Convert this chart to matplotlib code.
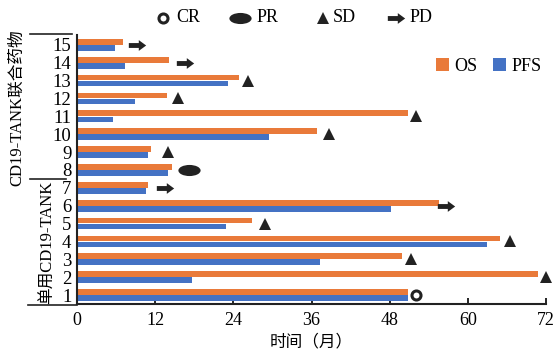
import numpy as np
import matplotlib
matplotlib.use("Agg")
import matplotlib.pyplot as plt
from matplotlib.path import Path
from matplotlib.patches import Patch
from matplotlib.lines import Line2D

plt.rcParams['font.family'] = ['Liberation Serif', 'Noto Sans CJK SC']

patients = list(range(1, 16))
os_months = [50.8, 70.7, 49.9, 65.0, 26.8, 55.5, 10.9, 14.6, 11.4, 36.9, 50.8, 13.8, 24.8, 14.2, 7.1]
pfs_months = [50.8, 17.6, 37.3, 63.0, 22.9, 48.2, 10.6, 13.9, 10.9, 29.4, 5.6, 8.9, 23.2, 7.4, 5.8]
status = ['CR', 'SD', 'SD', 'SD', 'SD', 'PD', 'PD', 'PR', 'SD', 'SD', 'SD', 'SD', 'SD', 'PD', 'PD']
status_x = [52.1, 72.0, 51.3, 66.4, 28.9, 56.7, 13.5, 17.2, 14.0, 38.7, 52.1, 15.5, 26.3, 16.6, 9.2]
x_ticks = [0, 12, 24, 36, 48, 60, 72]
group_labels = ['单用CD19-TANK', 'CD19-TANK联合药物']

ORANGE = '#E97A3A'
BLUE = '#4472C4'

# custom markers
arrow_path = Path([(-1.0, -0.28), (0.15, -0.28), (0.15, -0.62), (1.0, 0.0),
                   (0.15, 0.62), (0.15, 0.28), (-1.0, 0.28), (-1.0, -0.28)],
                  [Path.MOVETO] + [Path.LINETO] * 6 + [Path.CLOSEPOLY])
circ = Path.unit_circle()
ellipse_path = Path(circ.vertices * np.array([1.0, 0.5]), circ.codes)

marker_styles = {
    'CR': dict(marker='o', ms=6.5, mfc='white', mec='#222222', mew=2.2),
    'PR': dict(marker=ellipse_path, ms=16, mfc='#222222', mec='#222222', mew=0),
    'SD': dict(marker='^', ms=8.5, mfc='#222222', mec='#222222', mew=0),
    'PD': dict(marker=arrow_path, ms=12.5, mfc='#222222', mec='#222222', mew=0),
}

fig = plt.figure(figsize=(5.58, 3.56), dpi=100)
ax = fig.add_axes([77 / 558, 1 - 304 / 356, (546 - 77) / 558, (304 - 35) / 356])

y = np.array(patients, dtype=float)
h = 0.32
ax.barh(y + 0.17, os_months, height=h, color=ORANGE, zorder=2)
ax.barh(y - 0.17, pfs_months, height=h, color=BLUE, zorder=2)

for yi, sx, st in zip(y, status_x, status):
    ax.plot([sx], [yi], linestyle='none', clip_on=False, zorder=3, **marker_styles[st])

ax.set_xlim(0, 72)
ax.set_ylim(0.5, 15.55)
ax.set_xticks(x_ticks)
ax.set_xticklabels([str(t) for t in x_ticks], fontsize=13)
ax.set_yticks(patients)
ax.set_yticklabels([str(p) for p in patients], fontsize=13.5)
ax.tick_params(axis='x', direction='in', length=4, width=1.2, pad=6)
ax.tick_params(axis='y', length=0, pad=4)
for s in ['top', 'right']:
    ax.spines[s].set_visible(False)
for s in ['left', 'bottom']:
    ax.spines[s].set_linewidth(1.5)
    ax.spines[s].set_color('#222222')

ax.set_xlabel('时间（月）', fontsize=12, labelpad=4)

# OS / PFS legend
handles = [Patch(facecolor=ORANGE, edgecolor='none'), Patch(facecolor=BLUE, edgecolor='none')]
ax.legend(handles, ['OS', 'PFS'], loc='upper right', bbox_to_anchor=(1.025, 0.975), ncol=2,
          frameon=False, fontsize=13, handlelength=0.7, handleheight=0.7,
          handletextpad=0.3, columnspacing=0.9)

# top status legend
tf = fig.transFigure
legend_items = [('CR', 163, 13), ('PR', 240, 17), ('SD', 323, 10), ('PD', 396, 14)]
for name, px, off in legend_items:
    st = dict(marker_styles[name])
    fig.add_artist(Line2D([px / 558], [1 - 18 / 356], transform=tf, linestyle='none', **st))
    fig.text((px + off) / 558, 1 - 18 / 356, name, fontsize=13, va='center', ha='left')

# group brackets
for yy, x0, x1 in [(34, 30, 72), (179, 30, 66), (305, 28, 77)]:
    fig.add_artist(Line2D([x0 / 558, x1 / 558], [1 - yy / 356, 1 - yy / 356],
                          transform=tf, color='#222222', lw=1.2))
fig.text(48 / 558, 1 - 242 / 356, group_labels[0], rotation=90, fontsize=12,
         ha='center', va='center')
fig.text(17 / 558, 1 - 108 / 356, group_labels[1], rotation=90, fontsize=12,
         ha='center', va='center')

fig.savefig('out.png', dpi=100)
